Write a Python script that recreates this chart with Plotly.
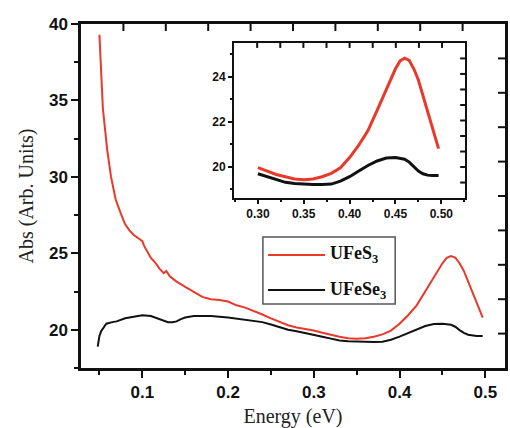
import plotly.graph_objects as go

# UFeS3 absorption spectrum (Energy in eV, absorbance in arbitrary units)
energy_s = [0.050, 0.052, 0.054, 0.056, 0.059, 0.0635, 0.069, 0.075, 0.080, 0.085,
            0.090, 0.095, 0.098, 0.100, 0.102, 0.105, 0.110, 0.115, 0.120, 0.125,
            0.128, 0.132, 0.140, 0.150, 0.160, 0.170, 0.180, 0.190, 0.200, 0.210,
            0.220, 0.230, 0.240, 0.250, 0.260, 0.270, 0.280, 0.290, 0.300, 0.310,
            0.320, 0.330, 0.340, 0.350, 0.360, 0.370, 0.380, 0.390, 0.400, 0.410,
            0.420, 0.430, 0.440, 0.445, 0.450, 0.455, 0.460, 0.465, 0.470, 0.475,
            0.480, 0.485, 0.490, 0.495, 0.497]
abs_s = [39.3, 36.6, 34.5, 33.4, 31.8, 30.0, 28.5, 27.6, 26.9, 26.5,
         26.2, 26.0, 25.9, 25.8, 25.5, 25.2, 24.7, 24.4, 24.0, 23.7,
         23.85, 23.5, 23.15, 22.8, 22.45, 22.15, 22.0, 21.95, 21.85, 21.6,
         21.45, 21.25, 21.0, 20.75, 20.5, 20.3, 20.15, 20.05, 19.95, 19.8,
         19.65, 19.55, 19.45, 19.42, 19.45, 19.55, 19.7, 19.95, 20.4, 20.95,
         21.6, 22.5, 23.4, 23.9, 24.35, 24.7, 24.82, 24.72, 24.35, 23.85,
         23.15, 22.5, 21.8, 21.1, 20.8]

# UFeSe3 absorption spectrum
energy_se = [0.048, 0.050, 0.052, 0.055, 0.058, 0.065, 0.070, 0.080, 0.090, 0.100,
             0.110, 0.115, 0.120, 0.125, 0.130, 0.135, 0.140, 0.145, 0.150, 0.160,
             0.170, 0.180, 0.200, 0.220, 0.240, 0.250, 0.260, 0.270, 0.280, 0.290,
             0.300, 0.310, 0.320, 0.330, 0.340, 0.350, 0.360, 0.370, 0.380, 0.390,
             0.400, 0.410, 0.420, 0.430, 0.440, 0.450, 0.460, 0.465, 0.470, 0.475,
             0.480, 0.485, 0.490, 0.497]
abs_se = [18.9, 19.6, 19.9, 20.2, 20.4, 20.5, 20.55, 20.75, 20.85, 20.95,
          20.9, 20.8, 20.7, 20.6, 20.5, 20.5, 20.55, 20.7, 20.8, 20.9,
          20.9, 20.9, 20.8, 20.65, 20.5, 20.35, 20.15, 20.0, 19.9, 19.8,
          19.68, 19.55, 19.42, 19.3, 19.25, 19.22, 19.2, 19.2, 19.22, 19.35,
          19.55, 19.8, 20.05, 20.25, 20.38, 20.4, 20.33, 20.2, 19.98, 19.8,
          19.68, 19.62, 19.6, 19.6]

names = ["UFeS<sub>3</sub>", "UFeSe<sub>3</sub>"]
colors = ["#e8392a", "#111111"]

# inset shows the high-energy part of the same spectra
inset_start = 0.30


def from_energy(xs, ys, lo):
    pairs = [(x, y) for x, y in zip(xs, ys) if x >= lo]
    return [p[0] for p in pairs], [p[1] for p in pairs]


fig = go.Figure()
for xs, ys, name, color in [(energy_s, abs_s, names[0], colors[0]),
                            (energy_se, abs_se, names[1], colors[1])]:
    fig.add_trace(go.Scatter(x=xs, y=ys, mode="lines", name=name,
                             line=dict(color=color, width=2),
                             xaxis="x", yaxis="y", showlegend=False))
    ix, iy = from_energy(xs, ys, inset_start)
    fig.add_trace(go.Scatter(x=ix, y=iy, mode="lines", name=name,
                             line=dict(color=color, width=3),
                             xaxis="x2", yaxis="y2", showlegend=False))

tick_font = dict(family="Liberation Sans", size=17, color="#111", weight="bold")
inset_font = dict(family="Liberation Sans", size=12, color="#111", weight="bold")
title_font = dict(family="Liberation Serif", size=20, color="#222")

frame = dict(showline=True, linecolor="#111", mirror=True, showgrid=False,
             zeroline=False, automargin=False, tickcolor="#111")

main_w, main_h = 424, 344        # plot area size in px
main_dom_x, main_dom_y = [0.0, 1.0], [0.0, 1.0]
inset_dom_x = [0.361, 0.906]
inset_dom_y = [0.494, 0.945]

fig.update_layout(
    width=510, height=428,
    margin=dict(l=81, r=5, t=24, b=60),
    paper_bgcolor="white", plot_bgcolor="white",
    xaxis=dict(frame, range=[0.0285, 0.523], tick0=0, dtick=0.1, ticks="outside",
               ticklen=7, tickwidth=2, linewidth=2.5, tickfont=tick_font,
               minor=dict(tick0=0.05, dtick=0.1, ticks="outside", ticklen=4,
                          tickwidth=2, tickcolor="#111"),
               title=dict(text="Energy (eV)", font=title_font, standoff=13)),
    yaxis=dict(frame, range=[17.5, 40], tick0=0, dtick=5, ticks="outside",
               ticklen=7, tickwidth=2, linewidth=2.5, tickfont=tick_font,
               minor=dict(tick0=2.5, dtick=5, ticks="outside", ticklen=4,
                          tickwidth=2, tickcolor="#111"),
               title=dict(text="Abs (Arb. Units)", font=title_font, standoff=10)),
    xaxis2=dict(frame, domain=inset_dom_x, anchor="y2", range=[0.274, 0.526],
                tick0=0, dtick=0.05, ticks="outside", ticklen=4, tickwidth=2,
                linewidth=2, tickformat=".2f", tickfont=inset_font,
                minor=dict(tick0=0.025, dtick=0.05, ticks="outside", ticklen=2,
                           tickwidth=1.5, tickcolor="#111")),
    yaxis2=dict(frame, domain=inset_dom_y, anchor="x2", range=[18.6, 25.5],
                tick0=0, dtick=2, ticks="outside", ticklen=4, tickwidth=2,
                linewidth=2, tickfont=inset_font,
                minor=dict(tick0=1, dtick=2, ticks="outside", ticklen=2,
                           tickwidth=1.5, tickcolor="#111")),
)

# inward ticks along the top and right frame edges, ten equal divisions
for dx, dy, tl in [(main_dom_x, main_dom_y, 7), (inset_dom_x, inset_dom_y, 5)]:
    dlen_x = tl / main_w          # tick length as a fraction of the paper
    dlen_y = tl / main_h
    for k in range(1, 10):
        px = dx[0] + (dx[1] - dx[0]) * k / 10
        py = dy[0] + (dy[1] - dy[0]) * k / 10
        fig.add_shape(type="line", xref="paper", yref="paper", layer="above",
                      x0=px, x1=px, y0=dy[1], y1=dy[1] - dlen_y,
                      line=dict(color="#111", width=2))
        fig.add_shape(type="line", xref="paper", yref="paper", layer="above",
                      x0=dx[1], x1=dx[1] - dlen_x, y0=py, y1=py,
                      line=dict(color="#111", width=2))

# legend box drawn in paper coordinates
legend_x0, legend_x1 = 0.429, 0.741
legend_y0, legend_y1 = 0.186, 0.381
fig.add_shape(type="rect", xref="paper", yref="paper",
              x0=legend_x0, x1=legend_x1, y0=legend_y0, y1=legend_y1,
              line=dict(color="#555", width=1.5), fillcolor="white")
row_y = [0.3285, 0.2267]
for name, color, yy in zip(names, colors, row_y):
    fig.add_shape(type="line", xref="paper", yref="paper",
                  x0=0.441, x1=0.5755, y0=yy, y1=yy,
                  line=dict(color=color, width=2))
    fig.add_annotation(xref="paper", yref="paper", x=0.582, y=yy,
                       xanchor="left", yanchor="middle", showarrow=False,
                       text="<b>" + name + "</b>",
                       font=dict(family="Liberation Serif", size=18, color="#111"))

fig.write_html("out.html")
